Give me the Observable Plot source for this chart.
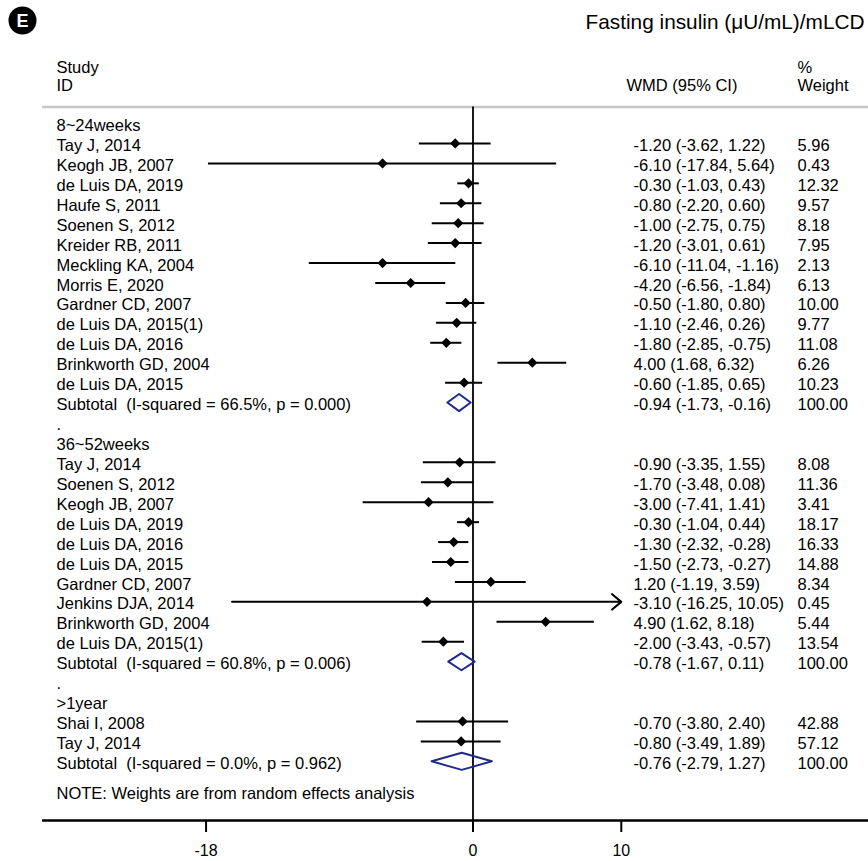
<!DOCTYPE html>
<html>
<head>
<meta charset="utf-8">
<script src="https://cdn.jsdelivr.net/npm/d3@7"></script>
<script src="https://cdn.jsdelivr.net/npm/@observablehq/plot@0.6"></script>
<style>
  html, body { margin: 0; padding: 0; background: #fff; }
  #chart svg text { white-space: pre; }
</style>
</head>
<body>
<div id="chart"></div>
<script>
// Forest plot: fasting insulin, WMD with 95% CI, grouped by intervention length
const title = "Fasting insulin (μU/mL)/mLCD";
const panelLetter = "E";
const groupNames = ["8~24weeks", "36~52weeks", ">1year"];

const studyNames = [
  "Tay J, 2014", "Keogh JB, 2007", "de Luis DA, 2019", "Haufe S, 2011", "Soenen S, 2012",
  "Kreider RB, 2011", "Meckling KA, 2004", "Morris E, 2020", "Gardner CD, 2007",
  "de Luis DA, 2015(1)", "de Luis DA, 2016", "Brinkworth GD, 2004", "de Luis DA, 2015",
  "Tay J, 2014", "Soenen S, 2012", "Keogh JB, 2007", "de Luis DA, 2019", "de Luis DA, 2016",
  "de Luis DA, 2015", "Gardner CD, 2007", "Jenkins DJA, 2014", "Brinkworth GD, 2004",
  "de Luis DA, 2015(1)",
  "Shai I, 2008", "Tay J, 2014"
];
const studyGroup = [0,0,0,0,0,0,0,0,0,0,0,0,0, 1,1,1,1,1,1,1,1,1,1, 2,2];
const studyWmd = [-1.20, -6.10, -0.30, -0.80, -1.00, -1.20, -6.10, -4.20, -0.50, -1.10, -1.80, 4.00, -0.60,
                  -0.90, -1.70, -3.00, -0.30, -1.30, -1.50, 1.20, -3.10, 4.90, -2.00,
                  -0.70, -0.80];
const studyLow = [-3.62, -17.84, -1.03, -2.20, -2.75, -3.01, -11.04, -6.56, -1.80, -2.46, -2.85, 1.68, -1.85,
                  -3.35, -3.48, -7.41, -1.04, -2.32, -2.73, -1.19, -16.25, 1.62, -3.43,
                  -3.80, -3.49];
const studyHigh = [1.22, 5.64, 0.43, 0.60, 0.75, 0.61, -1.16, -1.84, 0.80, 0.26, -0.75, 6.32, 0.65,
                   1.55, 0.08, 1.41, 0.44, -0.28, -0.27, 3.59, 10.05, 8.18, -0.57,
                   2.40, 1.89];
const studyWeight = [5.96, 0.43, 12.32, 9.57, 8.18, 7.95, 2.13, 6.13, 10.00, 9.77, 11.08, 6.26, 10.23,
                     8.08, 11.36, 3.41, 18.17, 16.33, 14.88, 8.34, 0.45, 5.44, 13.54,
                     42.88, 57.12];

const subtotalI2 = ["66.5%", "60.8%", "0.0%"];
const subtotalP = ["0.000", "0.006", "0.962"];
const subtotalWmd = [-0.94, -0.78, -0.76];
const subtotalLow = [-1.73, -1.67, -2.79];
const subtotalHigh = [-0.16, 0.11, 1.27];
const subtotalWeight = [100.00, 100.00, 100.00];

const xTicks = [-18, 0, 10];
const note = "NOTE: Weights are from random effects analysis";

// Build one table row per printed line
const rows = [];
let r = 0;
groupNames.forEach((g, gi) => {
  rows.push({row: r++, kind: "group", label: g});
  studyNames.forEach((name, i) => {
    if (studyGroup[i] === gi) {
      rows.push({row: r++, kind: "study", label: name,
        est: studyWmd[i], lo: studyLow[i], hi: studyHigh[i], w: studyWeight[i]});
    }
  });
  rows.push({row: r++, kind: "subtotal",
    label: `Subtotal  (I-squared = ${subtotalI2[gi]}, p = ${subtotalP[gi]})`,
    est: subtotalWmd[gi], lo: subtotalLow[gi], hi: subtotalHigh[gi], w: subtotalWeight[gi]});
  if (gi < groupNames.length - 1) rows.push({row: r++, kind: "spacer", label: "."});
});
const noteRows = [{row: r - 1 + 1.5, label: note}];

const studies = rows.filter(d => d.kind === "study");
const subtotals = rows.filter(d => d.kind === "subtotal");
const estimates = rows.filter(d => d.est !== undefined);

const xmin = d3.min(xTicks), xmax = d3.max(xTicks);
const inside = studies.filter(d => d.lo >= xmin && d.hi <= xmax);
const clipped = studies.filter(d => d.lo < xmin || d.hi > xmax);

// Pooled-estimate diamonds as closed outlines
const halfH = 0.43;
const diamondPts = subtotals.flatMap((d, k) => [
  {k, x: d.lo, y: d.row},
  {k, x: d.est, y: d.row - halfH},
  {k, x: d.hi, y: d.row},
  {k, x: d.est, y: d.row + halfH},
  {k, x: d.lo, y: d.row}
]);

const f2 = v => v.toFixed(2);
const yDomain = [-0.83, 34.97];
const font = 16.5;
const colLabel = 14, colWmd = 591, colWmdHead = 584, colWeight = 755;

const chart = Plot.plot({
  width: 868,
  height: 861,
  marginLeft: 42,
  marginRight: 0,
  marginTop: 106.5,
  marginBottom: 41,
  style: {fontFamily: "'Liberation Sans', Arial, Helvetica, sans-serif", fontSize: "16px", background: "#fff", color: "#000"},
  x: {domain: [-29.03, 26.67]},
  y: {domain: yDomain, reverse: true, axis: null},
  marks: [
    // header separator and axis baseline
    Plot.ruleY([yDomain[0]], {stroke: "#c8c8c8", strokeWidth: 2.5}),
    Plot.ruleY([yDomain[1]], {stroke: "#000", strokeWidth: 2.5}),
    Plot.ruleX([0], {stroke: "#000", strokeWidth: 1.8}),
    Plot.axisX({ticks: xTicks, tickFormat: d => String(d), tickSize: 12, tickPadding: 12,
      fontSize: 16, strokeWidth: 2, anchor: "bottom"}),

    // confidence intervals
    Plot.ruleY(inside, {y: "row", x1: "lo", x2: "hi", stroke: "#000", strokeWidth: 2}),
    Plot.arrow(clipped, {y1: "row", y2: "row",
      x1: d => Math.max(d.lo, xmin), x2: d => Math.min(d.hi, xmax),
      stroke: "#000", strokeWidth: 2, headLength: 9, headAngle: 80, bend: 0}),
    Plot.dot(studies, {x: "est", y: "row", symbol: "diamond2", r: 4.6, fill: "#000", stroke: null}),

    // subtotal diamonds
    Plot.line(diamondPts, {x: "x", y: "y", z: "k", stroke: "#1f2a8c", strokeWidth: 2, curve: "linear"}),

    // table columns
    Plot.text(rows, {y: "row", text: "label", frameAnchor: "left", dx: colLabel, dy: 2.3,
      textAnchor: "start", fontSize: font}),
    Plot.text(estimates, {y: "row", text: d => `${f2(d.est)} (${f2(d.lo)}, ${f2(d.hi)})`,
      frameAnchor: "left", dx: colWmd, dy: 2.3, textAnchor: "start", fontSize: font}),
    Plot.text(estimates, {y: "row", text: d => f2(d.w),
      frameAnchor: "left", dx: colWeight, dy: 2.3, textAnchor: "start", fontSize: font}),
    Plot.text(noteRows, {y: "row", text: "label", frameAnchor: "left", dx: colLabel, dy: 2.3,
      textAnchor: "start", fontSize: font}),

    // column headers
    Plot.text([{row: -2.9, t: "Study"}, {row: -2.0, t: "ID"}], {y: "row", text: "t",
      frameAnchor: "left", dx: colLabel, dy: 2.3, textAnchor: "start", fontSize: font}),
    Plot.text([{row: -2.0, t: "WMD (95% CI)"}], {y: "row", text: "t",
      frameAnchor: "left", dx: colWmdHead, dy: 2.3, textAnchor: "start", fontSize: font}),
    Plot.text([{row: -2.9, t: "%"}, {row: -2.0, t: "Weight"}], {y: "row", text: "t",
      frameAnchor: "left", dx: colWeight, dy: 2.3, textAnchor: "start", fontSize: font}),

    // title and panel badge
    Plot.text([title], {frameAnchor: "top-right", dx: -4, dy: -85, textAnchor: "end",
      lineAnchor: "middle", fontSize: 20.8}),
    Plot.dot([panelLetter], {frameAnchor: "top-left", dx: -20, dy: -86.5, r: 14, fill: "#000", stroke: null}),
    Plot.text([panelLetter], {frameAnchor: "top-left", dx: -20, dy: -86, fill: "#fff",
      textAnchor: "middle", lineAnchor: "middle", fontWeight: "bold", fontSize: 18})
  ]
});

document.getElementById("chart").append(chart);
</script>
</body>
</html>
